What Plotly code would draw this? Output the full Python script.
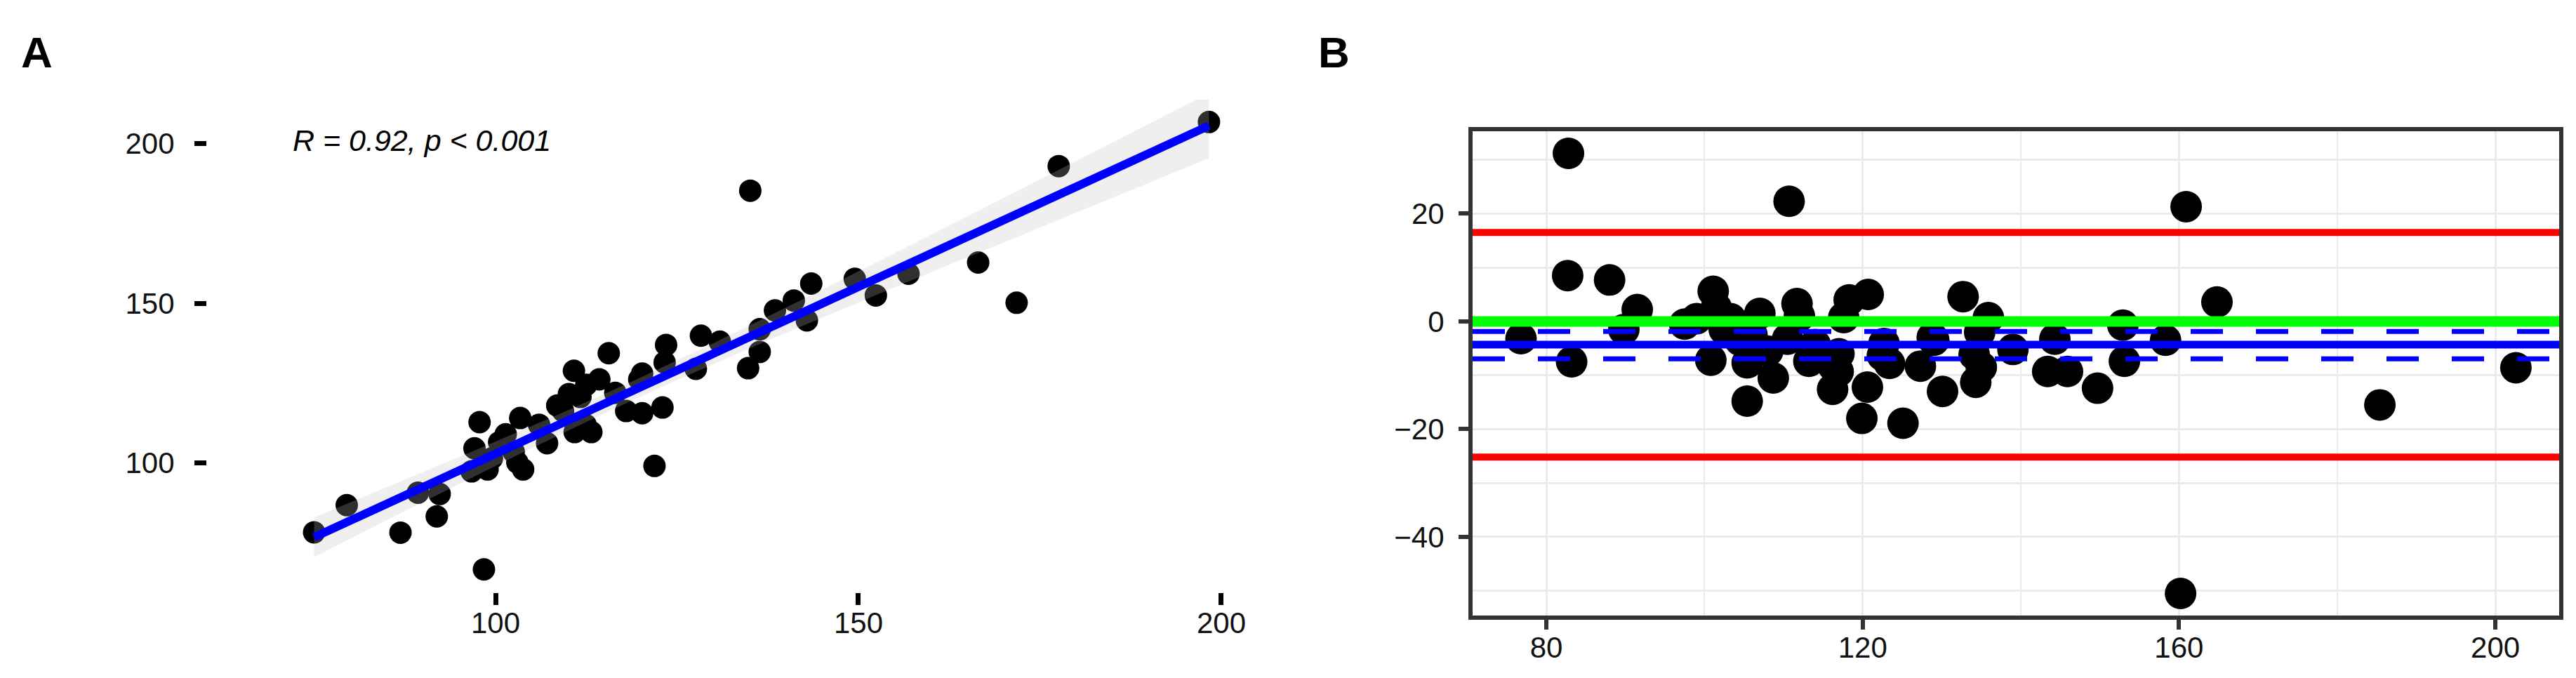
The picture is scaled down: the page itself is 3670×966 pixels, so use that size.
import numpy as np
import plotly.graph_objects as go

# ---------------- Data ----------------
# Panel A: method comparison scatter
a_x = [75.0, 79.5, 86.9, 89.3, 92.3, 91.9, 98.4, 97.8, 97.1, 96.7, 98.9, 99.5,
       101.4, 103.4, 103.0, 103.8, 102.5, 100.5, 107.1, 109.3, 110.8, 110.1,
       111.7, 110.9, 113.2, 112.4, 114.3, 115.6, 118.0, 120.2, 123.0, 121.9,
       119.8, 120.2, 123.5, 123.3, 128.3, 127.6, 130.9, 135.1, 134.8, 136.4,
       136.4, 138.5, 141.1, 142.9, 143.5, 149.5, 152.4, 156.9, 166.5, 171.8,
       177.6, 198.3, 108.5, 106.0, 116.5, 112.5]
a_y = [78.3, 86.8, 78.2, 90.7, 90.3, 83.3, 66.7, 112.8, 104.6, 97.4, 98.0, 101.5,
       109.0, 114.1, 100.2, 98.0, 103.5, 106.5, 106.2, 116.3, 128.9, 121.6,
       120.7, 109.7, 109.7, 112.0, 126.2, 134.4, 116.3, 115.6, 117.4, 99.1,
       126.2, 128.0, 137.0, 131.5, 139.9, 129.5, 138.0, 185.3, 129.7, 134.8,
       141.9, 147.8, 150.9, 144.7, 156.2, 157.7, 152.5, 159.3, 162.8, 150.2,
       193.0, 206.8, 118.0, 112.0, 122.0, 124.5]
a_xticks = [100, 150, 200]
a_yticks = [100, 150, 200]
cor_label = "R = 0.92, p < 0.001"

# Panel B: Bland-Altman
b_mean = [82.8, 110.7, 82.7, 88.0, 91.5, 76.8, 83.2, 89.8, 97.5, 101.1, 101.5,
          107.0, 111.7, 120.7, 118.3, 117.6, 100.8, 105.4, 108.7, 105.4, 113.2,
          116.2, 120.6, 119.9, 125.1, 122.5, 116.9, 114.0, 110.5, 103.3, 99.0,
          104.5, 112.0, 132.7, 135.9, 129.0, 122.7, 123.4, 127.3, 134.1, 134.3,
          130.1, 139.0, 144.3, 143.4, 145.9, 149.7, 152.9, 153.1, 158.3, 160.9,
          164.8, 185.4, 202.6, 160.2, 135.0, 108.0, 117.0, 102.5, 106.0, 134.8,
          116.3, 128.8]
b_diff = [31.2, 22.3, 8.5, 7.7, 2.2, -3.2, -7.5, -1.5, -0.5, 5.6, 2.5,
          1.5, 3.3, 5.0, 4.0, 0.7, -7.2, -7.7, -10.5, -14.8, -7.4,
          -12.6, -12.2, -18.0, -18.9, -6.3, -9.3, -4.3, -3.3, 0.5, 0.5,
          -3.5, 1.0, 4.6, 0.7, -3.5, -4.1, -7.8, -8.3, -6.1, -11.3,
          -13.0, -5.2, -3.3, -9.3, -9.3, -12.4, -0.7, -7.4, -3.5, 21.3,
          3.6, -15.5, -8.6, -50.5, -8.5, -5.5, -6.0, -1.5, -2.5, -2.0,
          -8.3, -3.0]
b_xticks = [80, 120, 160, 200]
b_xminor = [100, 140, 180]
b_yticks = [-40, -20, 0, 20]
b_yminor = [-50, -30, -10, 10, 30]
zero_ref = 0.0
bias = -4.3
bias_ci_upper = -1.85
bias_ci_lower = -6.95
loa_upper = 16.5
loa_lower = -25.2

# ---------------- Regression (geom_smooth method = lm) ----------------
ax = np.array(a_x)
ay = np.array(a_y)
n = len(ax)
slope, intercept = np.polyfit(ax, ay, 1)
resid = ay - (slope * ax + intercept)
s = np.sqrt(np.sum(resid ** 2) / (n - 2))
sxx = np.sum((ax - ax.mean()) ** 2)
fx = np.linspace(ax.min(), ax.max(), 80)
fy = slope * fx + intercept
se = s * np.sqrt(1.0 / n + (fx - ax.mean()) ** 2 / sxx)
tval = 2.003
lo = fy - tval * se
hi = fy + tval * se

FONT = "Liberation Sans, Arial, Helvetica, sans-serif"
W, H = 3670, 966

fig = go.Figure()

# Panel A
fig.add_trace(go.Scatter(x=a_x, y=a_y, mode="markers", xaxis="x", yaxis="y",
                         marker=dict(color="black", size=32, line=dict(width=0)),
                         showlegend=False, hoverinfo="skip"))
fig.add_trace(go.Scatter(x=np.concatenate([fx, fx[::-1]]), y=np.concatenate([hi, lo[::-1]]),
                         mode="lines", fill="toself", fillcolor="rgba(190,190,190,0.25)",
                         line=dict(width=0), xaxis="x", yaxis="y",
                         showlegend=False, hoverinfo="skip"))
fig.add_trace(go.Scatter(x=fx, y=fy, mode="lines", xaxis="x", yaxis="y",
                         line=dict(color="#0000FF", width=12),
                         showlegend=False, hoverinfo="skip"))

# Panel B
fig.add_trace(go.Scatter(x=b_mean, y=b_diff, mode="markers", xaxis="x2", yaxis="y2",
                         marker=dict(color="black", size=45, line=dict(width=0)),
                         showlegend=False, hoverinfo="skip"))

shapes = []
def hline(yv, color, width, dash="solid"):
    shapes.append(dict(type="line", xref="x2 domain", yref="y2", x0=0, x1=1,
                       y0=yv, y1=yv, layer="above",
                       line=dict(color=color, width=width, dash=dash)))

hline(loa_upper, "#FF0000", 10)
hline(loa_lower, "#FF0000", 10)
hline(zero_ref, "#00FF00", 15)
hline(bias, "#0000FF", 11)
hline(bias_ci_upper, "#0000FF", 7, "46px,47px")
hline(bias_ci_lower, "#0000FF", 7, "46px,47px")

tickfont = dict(family=FONT, size=42, color="#111111")

fig.update_layout(
    width=W, height=H,
    margin=dict(l=0, r=0, t=0, b=0),
    paper_bgcolor="white", plot_bgcolor="white",
    font=dict(family=FONT),
    shapes=shapes,
    xaxis=dict(domain=[287 / W, 1794 / W], range=[60.25, 206.0],
               tickvals=a_xticks, ticks="outside", ticklen=17, tickwidth=7,
               tickcolor="black", showgrid=False, zeroline=False, showline=False,
               tickfont=tickfont, ticklabelstandoff=-10),
    yaxis=dict(domain=[(H - 836) / H, (H - 134) / H], range=[59.5, 213.8],
               tickvals=a_yticks, ticks="outside", ticklen=17, tickwidth=7,
               tickcolor="black", showgrid=False, zeroline=False, showline=False,
               tickfont=tickfont, ticklabelstandoff=20),
    xaxis2=dict(domain=[2090 / W, 3638 / W], range=[70.68, 208.07], anchor="y2",
                tickvals=b_xticks, ticks="outside", ticklen=14, tickwidth=6,
                tickcolor="#333333", showgrid=True, gridcolor="#EBEBEB", gridwidth=3,
                minor=dict(tickvals=b_xminor, showgrid=True, gridcolor="#EBEBEB",
                           gridwidth=2, ticks=""),
                zeroline=False, showline=True, linecolor="#333333", linewidth=6,
                mirror=True, tickfont=tickfont, ticklabelstandoff=-10),
    yaxis2=dict(domain=[(H - 869) / H, (H - 179) / H], range=[-54.6, 35.3], anchor="x2",
                tickvals=b_yticks, ticks="outside", ticklen=14, tickwidth=6,
                tickcolor="#333333", showgrid=True, gridcolor="#EBEBEB", gridwidth=3,
                minor=dict(tickvals=b_yminor, showgrid=True, gridcolor="#EBEBEB",
                           gridwidth=3, ticks=""),
                zeroline=False, showline=True, linecolor="#333333", linewidth=6,
                mirror=True, tickfont=tickfont, ticklabelstandoff=12),
    annotations=[
        dict(text=cor_label, xref="x", yref="y", x=71.9, y=201.0,
             xanchor="left", yanchor="middle", showarrow=False,
             font=dict(family=FONT, size=43, color="black", style="italic")),
        dict(text="<b>A</b>", xref="paper", yref="paper", x=20 / W, y=1 - 30 / H,
             xanchor="left", yanchor="top", showarrow=False,
             font=dict(family=FONT, size=62, color="black")),
        dict(text="<b>B</b>", xref="paper", yref="paper", x=1868 / W, y=1 - 30 / H,
             xanchor="left", yanchor="top", showarrow=False,
             font=dict(family=FONT, size=62, color="black")),
    ],
)

fig.write_html("out.html")
